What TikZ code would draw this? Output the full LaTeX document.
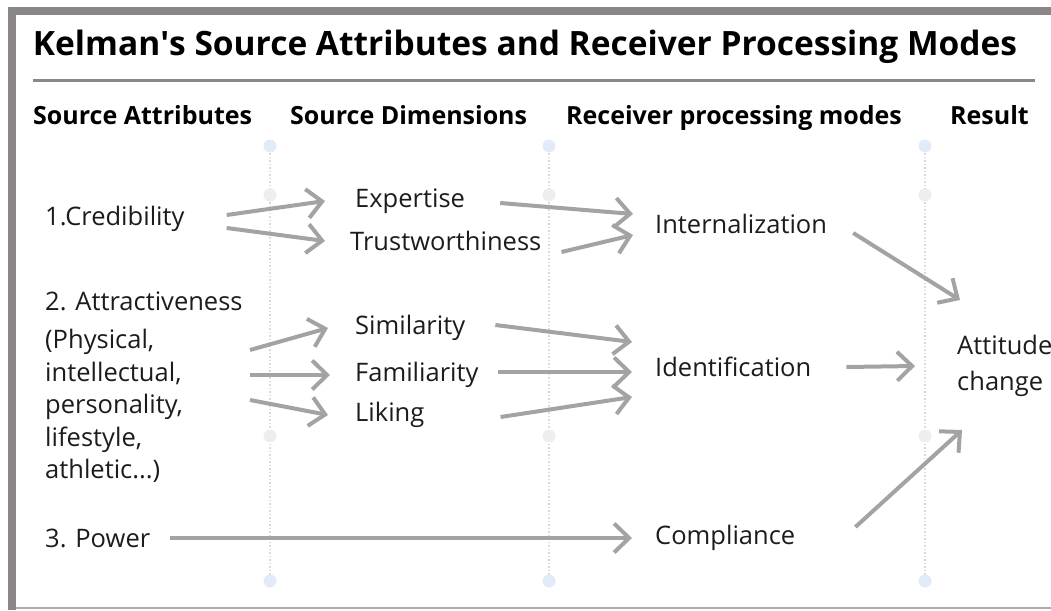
\documentclass[tikz,border=0pt]{standalone}
\usepackage{fontspec}
\setmainfont{Open Sans}
\usepackage{tikz}
\usetikzlibrary{positioning, calc, arrows.meta}

\definecolor{framegray}{HTML}{8C8787}
\definecolor{arrowgray}{HTML}{A3A3A3}
\definecolor{dotblue}{HTML}{E2ECF8}
\definecolor{dotgray}{HTML}{EDEEF0}
\definecolor{guidegray}{HTML}{DDDAD5}
\definecolor{txt}{HTML}{1C1C1C}

\tikzset{
  label/.style={inner sep=0pt, anchor=west, text=txt, font=\fontsize{25.5}{30}\selectfont},
  head/.style={inner sep=0pt, anchor=base west, text=black, font=\bfseries\fontsize{25}{30}\selectfont},
  flow/.style={draw=arrowgray, line width=4pt, -{Straight Barb[length=15pt, width=29pt]}},
  guide/.style={guidegray, line width=1.5pt, dotted},
}

\begin{document}
\begin{tikzpicture}[x=1pt, y=-1pt]
\useasboundingbox (0,0) rectangle (1051,610);

% frame
\fill[framegray] (8,7) rectangle (1051,15);
\fill[framegray] (8,7) rectangle (16,610);
\fill[framegray!70] (16,606.5) rectangle (1051,609);

\node[inner sep=0pt, font=\bfseries\fontsize{33.5}{38}\selectfont] (title) at (525,47) {Kelman\textquotesingle s Source Attributes and Receiver Processing Modes};
\fill[framegray] (33,78.5) rectangle (1035,82);

\node[head] (h1) at (33,124) {Source Attributes};
\node[head] (h2) at (290,124) {Source Dimensions};
\node[head] (h3) at (566,124) {Receiver processing modes};
\node[head] (h4) at (950,124) {Result};

% column guides
\foreach \gx in {270,549,925} {
  \draw[guide] (\gx,146) -- (\gx,581);
  \fill[dotblue] (\gx,146) circle (6.5);
  \fill[dotgray] (\gx,195) circle (6.5);
  \fill[dotgray] (\gx,436) circle (6.5);
  \fill[dotblue] (\gx,581) circle (6.5);
}

\node[label] (cred) at (45,219) {1.Credibility};
\node[label] (exp) at (355,201) {Expertise};
\node[label] (trust) at (350,241) {Trustworthiness};
\node[label] (intern) at (655,224) {Internalization};

\node[label, anchor=north west, align=left, font=\fontsize{25.5}{32.5}\selectfont] (attr) at (45,292) {2. Attractiveness\\[5.5pt](Physical,\\intellectual,\\personality,\\lifestyle,\\athletic...)};
\node[label] (sim) at (355,328) {Similarity};
\node[label] (fam) at (355,375) {Familiarity};
\node[label] (lik) at (355,415) {Liking};
\node[label] (ident) at (655,367) {Identification};

\node[label, align=left, font=\fontsize{25.5}{36}\selectfont] (att) at (957,366) {Attitude\\change};

\node[label] (power) at (45,538) {3. Power};
\node[label] (compl) at (655,538) {Compliance};

\draw[flow] ([xshift=42pt, yshift=4pt]cred.east) -- ([xshift=-30pt]exp.west);
\draw[flow] ([xshift=42pt, yshift=-9pt]cred.east) -- ([xshift=-25pt]trust.west);
\draw[flow] ([xshift=35pt, yshift=-2pt]exp.east) -- ([xshift=-22pt, yshift=10pt]intern.west);
\draw[flow] ([xshift=20pt, yshift=-11pt]trust.east) -- ([xshift=-22pt, yshift=-11pt]intern.west);

\draw[flow] ([xshift=-105pt, yshift=-22pt]sim.west) -- ([xshift=-27pt]sim.west);
\draw[flow] ([xshift=-105pt]fam.west) -- ([xshift=-25pt]fam.west);
\draw[flow] ([xshift=-105pt, yshift=15pt]lik.west) -- ([xshift=-27pt]lik.west);

\draw[flow] ([xshift=30pt, yshift=3pt]sim.east) -- ([xshift=-23pt, yshift=25pt]ident.west);
\draw[flow] ([xshift=19pt, yshift=3pt]fam.east) -- ([xshift=-23pt, yshift=-5pt]ident.west);
\draw[flow] ([xshift=76pt, yshift=-2pt]lik.east) -- ([xshift=-23pt, yshift=-30pt]ident.west);

\draw[flow] ([xshift=26pt, yshift=-9pt]intern.east) -- ([xshift=3pt, yshift=66pt]att.west);
\draw[flow] ([xshift=35pt]ident.east) -- ([xshift=-42pt]att.west);
\draw[flow] ([xshift=60pt, yshift=11pt]compl.east) -- ([xshift=5pt, yshift=-64pt]att.west);
\draw[flow] ([xshift=20pt]power.east) -- ([xshift=-23pt]compl.west);

\end{tikzpicture}
\end{document}
